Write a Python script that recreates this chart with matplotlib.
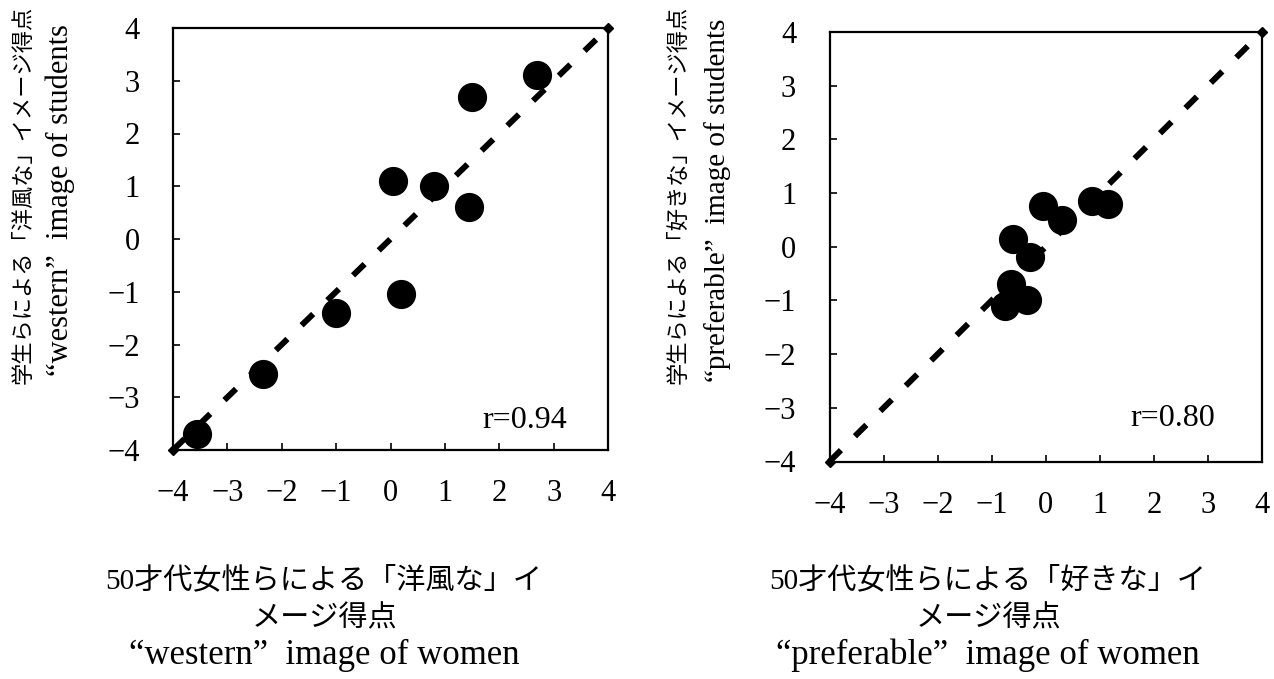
import matplotlib
matplotlib.use("Agg")
import matplotlib.pyplot as plt

# values
western_women = [-3.55, -2.35, -1.0, 0.2, 0.05, 0.8, 1.45, 1.5, 2.7]
western_students = [-3.7, -2.55, -1.4, -1.05, 1.1, 1.0, 0.6, 2.7, 3.1]
preferable_women = [-0.05, 0.3, 0.85, 1.15, -0.6, -0.3, -0.65, -0.35, -0.75]
preferable_students = [0.75, 0.5, 0.85, 0.8, 0.15, -0.2, -0.7, -1.0, -1.1]
diagonal = [-4, 4]
ticks = [-4, -3, -2, -1, 0, 1, 2, 3, 4]

r_labels = ["r=0.94", "r=0.80"]
x_labels = [
    ["50才代女性らによる「洋風な」イ", "メージ得点", "“western”  image of women"],
    ["50才代女性らによる「好きな」イ", "メージ得点", "“preferable”  image of women"],
]
y_labels = [
    ["学生らによる「洋風な」イメージ得点", "“western”  image of students"],
    ["学生らによる「好きな」イメージ得点", "“preferable”  image of students"],
]

SERIF = ["Liberation Serif", "Noto Sans CJK JP"]

W, H = 1274, 679
fig = plt.figure(figsize=(W / 100, H / 100), dpi=100)


def px_axes(left, top, right, bottom):
    return fig.add_axes([left / W, 1 - bottom / H, (right - left) / W, (bottom - top) / H])


axes = [px_axes(173, 28, 608, 450), px_axes(829.5, 32, 1262, 461.5)]
data = [(western_women, western_students), (preferable_women, preferable_students)]
r_pos = [(0.906, 0.069), (0.891, 0.099)]

for ax, (xs, ys), r, rp in zip(axes, data, r_labels, r_pos):
    ax.plot(diagonal, diagonal, color="black", linewidth=4.3, linestyle=(0, (2.7, 3.3)),
            dash_capstyle="butt", marker="D", markersize=5, clip_on=False, zorder=2)
    ax.plot(xs, ys, "o", color="black", markersize=20, zorder=3, clip_on=False)
    ax.set_xlim(-4, 4)
    ax.set_ylim(-4, 4)
    ax.set_xticks(ticks)
    ax.set_yticks(ticks)
    ax.tick_params(direction="in", length=5, width=1.2, top=False, right=False,
                   labelsize=22)
    ax.tick_params(axis="x", pad=21)
    ax.tick_params(axis="y", pad=24)
    for lab in ax.get_xticklabels() + ax.get_yticklabels():
        lab.set_family(SERIF)
    for s in ax.spines.values():
        s.set_linewidth(1.6)
    ax.text(rp[0], rp[1], r, transform=ax.transAxes, ha="right", va="center",
            fontsize=23, family=SERIF)

# x axis titles (three centred lines under each panel)
for cx, lines in zip([324, 988], x_labels):
    for cy, line, size in zip([580, 619, 655], lines, [21, 21, 25]):
        fig.text(cx / W, 1 - cy / H, line, ha="center", va="center",
                 fontsize=size, family=SERIF)

# y axis titles (two rotated columns left of each panel)
for (jx, ex), lines, esize in zip([(24, 60), (679, 718)], y_labels, [22, 21]):
    fig.text(jx / W, 1 - 195 / H, lines[0], rotation=90, ha="center", va="center",
             fontsize=16, family=SERIF)
    fig.text(ex / W, 1 - 200 / H, lines[1], rotation=90, ha="center", va="center",
             fontsize=esize, family=SERIF)

fig.savefig("out.png", dpi=100)
